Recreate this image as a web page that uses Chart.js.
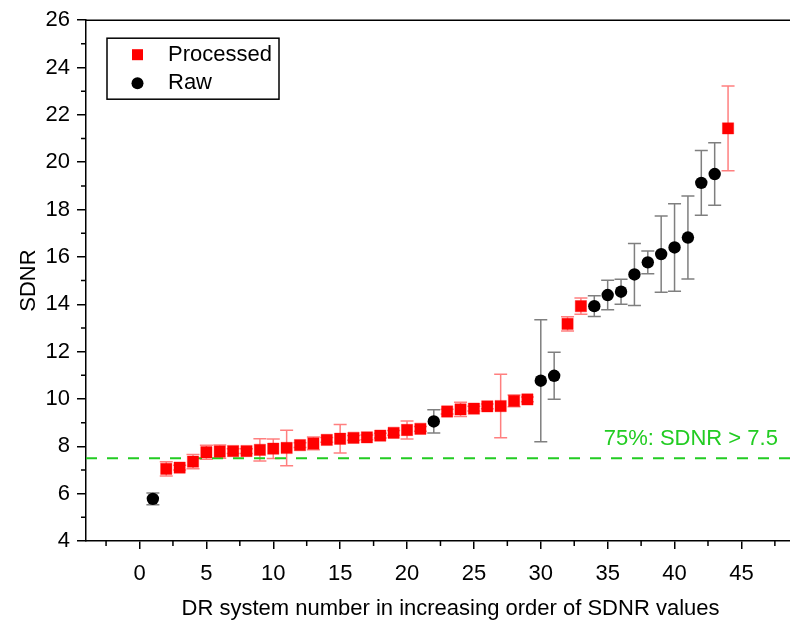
<!DOCTYPE html>
<html>
<head>
<meta charset="utf-8">
<script src="https://cdn.jsdelivr.net/npm/chart.js@4/dist/chart.umd.min.js"></script>
<style>
  html, body { margin: 0; padding: 0; background: #fff; }
  #wrap { width: 790px; height: 624px; overflow: hidden; position: relative; }
  canvas { display: block; }
</style>
</head>
<body>
<div id="wrap"><canvas id="chart" width="824" height="624"></canvas></div>
<script>
// DR systems sorted by SDNR; processed vs raw images
var processedNo = [2, 3, 4, 5, 6, 7, 8, 9, 10, 11, 12, 13, 14, 15, 16, 17, 18, 19, 20, 21,
                   23, 24, 25, 26, 27, 28, 29, 32, 33, 44];
var processedSdnr = [7.05, 7.1, 7.35, 7.75, 7.78, 7.8, 7.8, 7.85, 7.9, 7.93, 8.05, 8.12, 8.27, 8.32, 8.36,
                     8.38, 8.45, 8.57, 8.69, 8.74, 9.47, 9.56, 9.59, 9.69, 9.7, 9.92, 9.98, 13.17, 13.92, 21.43];
var processedErr = [0.3, 0.1, 0.3, 0.3, 0.28, 0.1, 0.1, 0.47, 0.41, 0.75, 0.1, 0.27, 0.1, 0.6, 0.1,
                    0.1, 0.1, 0.1, 0.38, 0.1, 0.1, 0.3, 0.1, 0.1, 1.34, 0.25, 0.1, 0.3, 0.34, 1.79];

var rawNo = [1, 22, 30, 31, 34, 35, 36, 37, 38, 39, 40, 41, 42, 43];
var rawSdnr = [5.78, 9.05, 10.77, 10.98, 13.92, 14.39, 14.53, 15.26, 15.77, 16.12, 16.4, 16.82, 19.13, 19.5];
var rawErr = [0.25, 0.49, 2.58, 0.99, 0.44, 0.62, 0.53, 1.31, 0.48, 1.61, 1.85, 1.75, 1.37, 1.32];

var threshold = 7.5;
var thresholdLabel = '75%: SDNR > 7.5';

var xMajorTicks = [0, 5, 10, 15, 20, 25, 30, 35, 40, 45];
var xMinorTicks = [-2.5, 2.5, 7.5, 12.5, 17.5, 22.5, 27.5, 32.5, 37.5, 42.5, 47.5];
var yMajorTicks = [4, 6, 8, 10, 12, 14, 16, 18, 20, 22, 24, 26];
var yMinorTicks = [5, 7, 9, 11, 13, 15, 17, 19, 21, 23, 25];

var FONT = 'Liberation Sans, Arial, sans-serif';
var GREEN = '#22cc22';

function toPoints(xs, ys) {
    return xs.map(function (x, i) { return { x: x, y: ys[i] }; });
}

var extras = {
    id: 'extras',
    beforeDatasetsDraw: function (chart) {
        var ctx = chart.ctx, xs = chart.scales.x, ys = chart.scales.y;
        // error bars
        chart.data.datasets.forEach(function (ds) {
            if (!ds.errors) return;
            ctx.save();
            ctx.strokeStyle = ds.errColor;
            ctx.lineWidth = 1.5;
            ds.data.forEach(function (p, i) {
                var px = xs.getPixelForValue(p.x);
                var top = ys.getPixelForValue(p.y + ds.errors[i]);
                var bot = ys.getPixelForValue(p.y - ds.errors[i]);
                ctx.beginPath();
                ctx.moveTo(px, top); ctx.lineTo(px, bot);
                ctx.moveTo(px - 6.5, top); ctx.lineTo(px + 6.5, top);
                ctx.moveTo(px - 6.5, bot); ctx.lineTo(px + 6.5, bot);
                ctx.stroke();
            });
            ctx.restore();
        });
    },
    afterDraw: function (chart) {
        var ctx = chart.ctx, xs = chart.scales.x, ys = chart.scales.y, a = chart.chartArea;
        ctx.save();
        ctx.strokeStyle = '#000';
        ctx.lineWidth = 1.5;
        // top frame line
        ctx.beginPath();
        ctx.moveTo(a.left, a.top); ctx.lineTo(a.right, a.top);
        ctx.stroke();
        // minor ticks
        ctx.beginPath();
        xMinorTicks.forEach(function (v) {
            var px = xs.getPixelForValue(v);
            ctx.moveTo(px, a.bottom); ctx.lineTo(px, a.bottom + 5);
        });
        yMinorTicks.forEach(function (v) {
            var py = ys.getPixelForValue(v);
            ctx.moveTo(a.left, py); ctx.lineTo(a.left - 5, py);
        });
        ctx.stroke();

        // threshold label
        ctx.fillStyle = GREEN;
        ctx.font = '22px ' + FONT;
        ctx.textAlign = 'left';
        ctx.textBaseline = 'middle';
        ctx.fillText(thresholdLabel, xs.getPixelForValue(34.7), ys.getPixelForValue(threshold + 0.82));

        // legend box
        var lx = a.left + 21, ly = a.top + 18, lw = 172, lh = 61;
        ctx.strokeStyle = '#000';
        ctx.lineWidth = 1.5;
        ctx.strokeRect(lx, ly, lw, lh);
        ctx.fillStyle = '#ff0000';
        ctx.fillRect(lx + 25, ly + 11, 11, 11);
        ctx.fillStyle = '#000';
        ctx.beginPath();
        ctx.arc(lx + 30.5, ly + 45, 6, 0, Math.PI * 2);
        ctx.fill();
        ctx.fillText('Processed', lx + 61, ly + 17);
        ctx.fillText('Raw', lx + 61, ly + 45);
        ctx.restore();
    }
};

var ctx = document.getElementById('chart').getContext('2d');
var chart = new Chart(ctx, {
    type: 'scatter',
    data: {
        datasets: [
            {
                label: 'Processed',
                data: toPoints(processedNo, processedSdnr),
                errors: processedErr,
                errColor: 'rgba(255,0,0,0.5)',
                pointStyle: 'rect',
                pointRadius: 8,
                pointHoverRadius: 8,
                backgroundColor: '#ff0000',
                borderColor: 'rgba(255,0,0,0.35)',
                borderWidth: 1,
                order: 1
            },
            {
                label: 'Raw',
                data: toPoints(rawNo, rawSdnr),
                errors: rawErr,
                errColor: 'rgba(0,0,0,0.5)',
                pointStyle: 'circle',
                pointRadius: 6.2,
                pointHoverRadius: 6.2,
                backgroundColor: '#000',
                borderColor: '#000',
                borderWidth: 0,
                order: 0
            },
            {
                type: 'line',
                label: 'threshold',
                data: [{ x: -4, y: threshold }, { x: 50.5, y: threshold }],
                borderColor: GREEN,
                borderWidth: 2,
                borderDash: [11, 10],
                pointRadius: 0,
                fill: false,
                order: 2
            }
        ]
    },
    options: {
        responsive: false,
        animation: false,
        layout: { padding: { top: 20, right: 0, left: 0, bottom: 0 } },
        plugins: {
            legend: { display: false },
            tooltip: { enabled: false }
        },
        scales: {
            x: {
                type: 'linear',
                min: -4,
                max: 50.5,
                afterBuildTicks: function (s) {
                    s.ticks = xMajorTicks.map(function (v) { return { value: v }; });
                },
                afterFit: function (s) { s.height = 83; },
                ticks: {
                    color: '#000',
                    font: { family: FONT, size: 22 },
                    padding: 12,
                    maxRotation: 0
                },
                grid: {
                    display: true,
                    drawOnChartArea: false,
                    drawTicks: true,
                    tickLength: 8,
                    color: '#000',
                    lineWidth: 1.5
                },
                border: { display: true, color: '#000', width: 1.5 },
                title: {
                    display: true,
                    text: 'DR system number in increasing order of SDNR values',
                    color: '#000',
                    font: { family: FONT, size: 22 },
                    padding: { top: 0, bottom: 2 }
                }
            },
            y: {
                min: 4,
                max: 26,
                afterBuildTicks: function (s) {
                    s.ticks = yMajorTicks.map(function (v) { return { value: v }; });
                },
                afterFit: function (s) { s.width = 86; },
                ticks: {
                    color: '#000',
                    font: { family: FONT, size: 22 },
                    padding: 7
                },
                grid: {
                    display: true,
                    drawOnChartArea: false,
                    drawTicks: true,
                    tickLength: 9,
                    color: '#000',
                    lineWidth: 1.5
                },
                border: { display: true, color: '#000', width: 1.5 },
                title: {
                    display: true,
                    text: 'SDNR',
                    color: '#000',
                    font: { family: FONT, size: 22 },
                    padding: { top: 16, bottom: 0 }
                }
            }
        }
    },
    plugins: [extras]
});
</script>
</body>
</html>
